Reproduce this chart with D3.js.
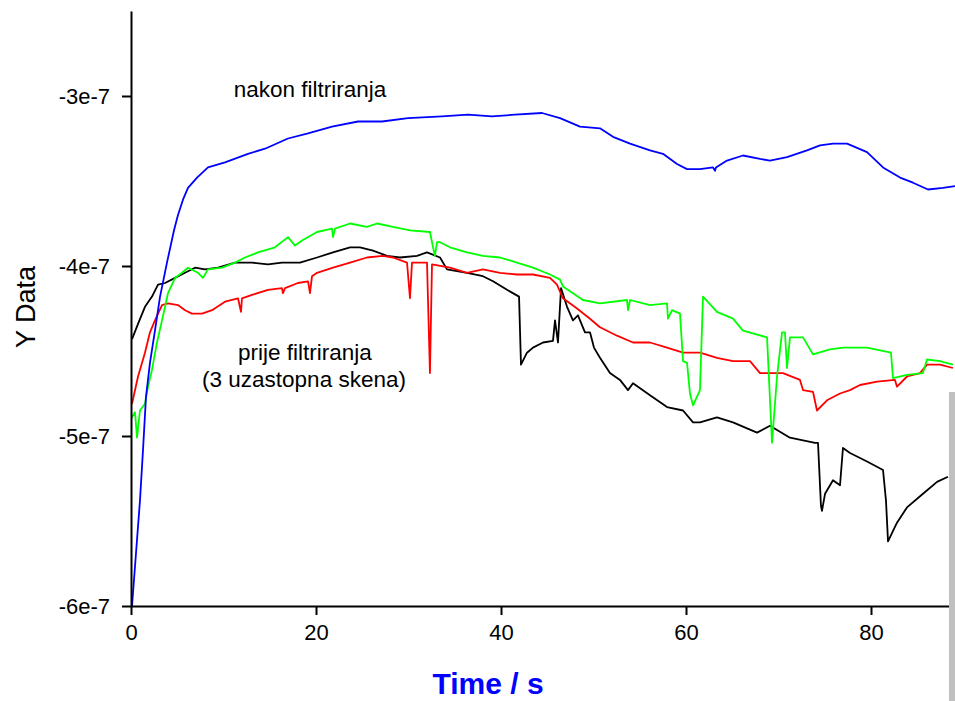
<!DOCTYPE html>
<html>
<head>
<meta charset="utf-8">
<script src="https://cdn.jsdelivr.net/npm/d3@7"></script>
<style>
  html, body { margin: 0; padding: 0; background: #fff; overflow: hidden; }
  svg { display: block; font-family: "Liberation Sans", Arial, sans-serif; }
</style>
</head>
<body>
<svg id="chart" width="955" height="701"></svg>
<script>
const UNIT = 1e-7;

const xTicks = [0, 20, 40, 60, 80];
const yTicks = [-6, -5, -4, -3];
const yTickLabels = ["-6e-7", "-5e-7", "-4e-7", "-3e-7"];

// after filtering (blue)
const afterFilter = [
  [0.11,-6.0],[0.65,-5.61],[0.97,-5.38],[1.30,-5.08],[1.62,-4.77],[2.05,-4.57],[2.59,-4.38],
  [3.14,-4.18],[3.89,-3.98],[4.65,-3.79],[5.08,-3.70],[5.62,-3.61],[6.16,-3.54],[7.14,-3.48],
  [8.32,-3.42],[10.16,-3.39],[12.65,-3.34],[14.49,-3.31],[16.97,-3.25],[19.14,-3.22],[21.73,-3.18],
  [24.54,-3.15],[27.14,-3.15],[29.95,-3.13],[33.62,-3.12],[36.43,-3.11],[39.03,-3.12],[41.51,-3.11],
  [44.43,-3.10],[46.38,-3.13],[48.54,-3.18],[50.70,-3.19],[52.11,-3.24],[53.95,-3.28],[56.11,-3.32],
  [57.51,-3.34],[59.03,-3.40],[60.11,-3.43],[61.51,-3.43],[62.92,-3.42],[63.14,-3.44],[63.24,-3.42],
  [64.43,-3.38],[66.16,-3.35],[68.0,-3.37],[69.08,-3.38],[70.92,-3.36],[73.08,-3.32],[74.49,-3.29],
  [75.89,-3.28],[77.41,-3.28],[79.57,-3.33],[81.30,-3.42],[83.14,-3.48],[84.54,-3.51],[86.16,-3.55],
  [87.78,-3.54],[89.08,-3.53]
];

// before filtering, scan 1 (black)
const scan1 = [
  [0.11,-4.43],[0.76,-4.34],[1.51,-4.24],[2.27,-4.18],[2.92,-4.11],[3.68,-4.10],[4.76,-4.07],
  [5.84,-4.04],[6.92,-4.01],[8.0,-4.02],[9.41,-4.01],[11.24,-3.98],[13.08,-3.98],[14.81,-3.99],
  [16.32,-3.98],[18.27,-3.98],[20.11,-3.95],[21.84,-3.92],[23.68,-3.89],[24.76,-3.89],[26.16,-3.91],
  [27.68,-3.94],[29.08,-3.95],[30.92,-3.94],[32.0,-3.92],[33.41,-3.95],[34.16,-4.02],[36.32,-4.04],
  [38.05,-4.06],[39.14,-4.09],[40.65,-4.14],[41.95,-4.18],[42.16,-4.58],[42.81,-4.51],[43.46,-4.48],
  [44.54,-4.45],[45.62,-4.44],[45.84,-4.32],[46.16,-4.45],[46.49,-4.13],[47.14,-4.24],[47.78,-4.32],
  [48.32,-4.29],[49.08,-4.39],[49.62,-4.39],[50.05,-4.48],[50.70,-4.54],[51.78,-4.63],[52.86,-4.67],
  [53.73,-4.73],[54.27,-4.69],[56.11,-4.76],[57.95,-4.83],[59.68,-4.85],[60.76,-4.92],[61.51,-4.92],
  [63.35,-4.89],[65.08,-4.92],[67.68,-4.98],[69.08,-4.94],[71.24,-5.01],[73.95,-5.04],[74.27,-5.04],
  [74.59,-5.41],[74.70,-5.44],[75.03,-5.34],[75.89,-5.26],[76.65,-5.29],[76.97,-5.07],[77.73,-5.10],
  [79.57,-5.15],[81.30,-5.20],[81.62,-5.38],[81.84,-5.62],[82.81,-5.51],[83.89,-5.42],[85.62,-5.34],
  [87.14,-5.27],[88.32,-5.24]
];

// before filtering, scan 2 (red)
const scan2 = [
  [0.11,-4.81],[0.76,-4.65],[1.51,-4.51],[2.05,-4.39],[2.59,-4.32],[3.35,-4.23],[4.0,-4.22],
  [5.08,-4.23],[5.84,-4.26],[6.59,-4.28],[7.68,-4.28],[8.76,-4.26],[10.16,-4.21],[11.57,-4.19],
  [11.89,-4.27],[12.0,-4.19],[13.08,-4.17],[14.81,-4.14],[16.32,-4.13],[16.43,-4.16],[16.65,-4.13],
  [18.05,-4.10],[19.14,-4.09],[19.35,-4.16],[19.57,-4.06],[20.11,-4.04],[21.84,-4.01],[23.68,-3.98],
  [25.51,-3.95],[27.24,-3.94],[28.32,-3.95],[29.84,-3.98],[30.16,-4.19],[30.38,-3.98],[30.70,-3.98],
  [32.0,-3.98],[32.32,-4.63],[32.54,-3.99],[34.49,-4.01],[36.32,-4.04],[38.05,-4.02],[39.89,-4.04],
  [41.73,-4.05],[43.46,-4.05],[45.30,-4.07],[46.05,-4.11],[46.70,-4.19],[48.22,-4.25],[49.62,-4.31],
  [50.70,-4.36],[52.54,-4.41],[54.27,-4.45],[56.11,-4.45],[57.95,-4.48],[59.68,-4.51],[61.51,-4.51],
  [63.35,-4.54],[65.08,-4.56],[66.92,-4.56],[68.0,-4.63],[70.49,-4.63],[72.32,-4.67],[72.65,-4.73],
  [73.73,-4.74],[74.16,-4.85],[75.24,-4.79],[76.65,-4.75],[77.73,-4.73],[78.81,-4.70],[80.65,-4.68],
  [82.59,-4.67],[82.81,-4.71],[83.89,-4.65],[85.30,-4.63],[86.05,-4.58],[87.46,-4.58],[88.86,-4.60]
];

// before filtering, scan 3 (green)
const scan3 = [
  [0.11,-4.89],[0.43,-4.86],[0.65,-5.01],[0.97,-4.85],[1.51,-4.81],[1.84,-4.71],[2.27,-4.61],
  [2.81,-4.45],[3.35,-4.32],[4.0,-4.16],[4.76,-4.07],[5.51,-4.04],[6.16,-4.01],[7.24,-4.04],
  [7.78,-4.07],[8.32,-4.02],[9.84,-4.01],[11.24,-3.98],[12.32,-3.95],[13.73,-3.92],[15.57,-3.89],
  [16.97,-3.83],[17.73,-3.88],[18.49,-3.85],[20.11,-3.80],[21.73,-3.78],[21.84,-3.83],[22.05,-3.78],
  [23.68,-3.75],[25.51,-3.77],[26.59,-3.75],[28.32,-3.77],[30.16,-3.79],[32.32,-3.80],[32.65,-3.89],
  [32.86,-3.94],[33.08,-3.86],[33.41,-3.86],[34.49,-3.89],[36.32,-3.92],[38.05,-3.94],[39.89,-3.95],
  [41.73,-3.98],[43.46,-4.01],[45.30,-4.05],[46.38,-4.08],[46.70,-4.12],[47.78,-4.16],[48.86,-4.20],
  [50.70,-4.22],[53.62,-4.20],[53.73,-4.26],[53.95,-4.20],[56.11,-4.23],[57.95,-4.22],[58.05,-4.31],
  [58.49,-4.26],[59.35,-4.28],[59.68,-4.56],[60.11,-4.57],[60.43,-4.75],[60.76,-4.82],[61.51,-4.73],
  [61.84,-4.18],[63.35,-4.27],[65.08,-4.31],[66.16,-4.38],[68.76,-4.42],[69.30,-5.04],[69.84,-4.65],
  [70.38,-4.39],[70.70,-4.39],[70.92,-4.60],[71.24,-4.42],[72.65,-4.42],[73.73,-4.52],[75.57,-4.49],
  [76.97,-4.48],[79.57,-4.48],[82.16,-4.51],[82.38,-4.66],[83.89,-4.64],[85.62,-4.63],[86.05,-4.55],
  [87.46,-4.56],[88.86,-4.58]
];

const series = [
  { data: scan1, color: "#000000" },
  { data: scan2, color: "#ff0000" },
  { data: scan3, color: "#00ff00" },
  { data: afterFilter, color: "#0000ff" }
];

const svg = d3.select("#chart");
const margin = { left: 131, top: 11, bottom: 606 };

const x = d3.scaleLinear().domain([0, 90]).range([margin.left, margin.left + 90 * 9.25]);
const y = d3.scaleLinear().domain([-6 * UNIT, -2.5 * UNIT]).range([margin.bottom, margin.top]);

const line = d3.line()
  .x(d => x(d[0]))
  .y(d => y(d[1] * UNIT));

series.forEach(s => {
  svg.append("path")
    .datum(s.data)
    .attr("fill", "none")
    .attr("stroke", s.color)
    .attr("stroke-width", 1.8)
    .attr("stroke-linejoin", "round")
    .attr("d", line);
});

// axes
const xAxis = svg.append("g")
  .attr("transform", `translate(0,${margin.bottom})`)
  .call(d3.axisBottom(x).tickValues(xTicks).tickSize(9).tickSizeOuter(0).tickPadding(9));

const yAxis = svg.append("g")
  .attr("transform", `translate(${margin.left},0)`)
  .call(d3.axisLeft(y)
    .tickValues(yTicks.map(v => v * UNIT))
    .tickFormat((d, i) => yTickLabels[i])
    .tickSize(9).tickSizeOuter(0).tickPadding(12));

[xAxis, yAxis].forEach(g => {
  g.select(".domain").attr("stroke", "#000").attr("stroke-width", 2);
  g.selectAll(".tick line").attr("stroke", "#000").attr("stroke-width", 2);
  g.selectAll(".tick text")
    .attr("fill", "#000")
    .style("font-family", "'Liberation Sans', Arial, sans-serif")
    .style("font-size", "22px");
});

// axis titles
svg.append("text")
  .attr("x", 488)
  .attr("y", 694)
  .attr("text-anchor", "middle")
  .attr("fill", "#0000ff")
  .style("font-size", "30px")
  .style("font-weight", "bold")
  .text("Time / s");

svg.append("text")
  .attr("transform", "translate(35,307) rotate(-90)")
  .attr("text-anchor", "middle")
  .attr("fill", "#000")
  .style("font-size", "27px")
  .text("Y Data");

// annotations
svg.append("text")
  .attr("x", 310)
  .attr("y", 97)
  .attr("text-anchor", "middle")
  .style("font-size", "22.5px")
  .text("nakon filtriranja");

svg.append("text")
  .attr("x", 305)
  .attr("y", 360)
  .attr("text-anchor", "middle")
  .style("font-size", "22.5px")
  .text("prije filtriranja");

svg.append("text")
  .attr("x", 304)
  .attr("y", 387)
  .attr("text-anchor", "middle")
  .style("font-size", "22.5px")
  .text("(3 uzastopna skena)");

// grey strip at the right edge of the capture
svg.append("rect")
  .attr("x", 949)
  .attr("y", 392)
  .attr("width", 6)
  .attr("height", 309)
  .attr("fill", "#c0c0c0");
</script>
</body>
</html>
